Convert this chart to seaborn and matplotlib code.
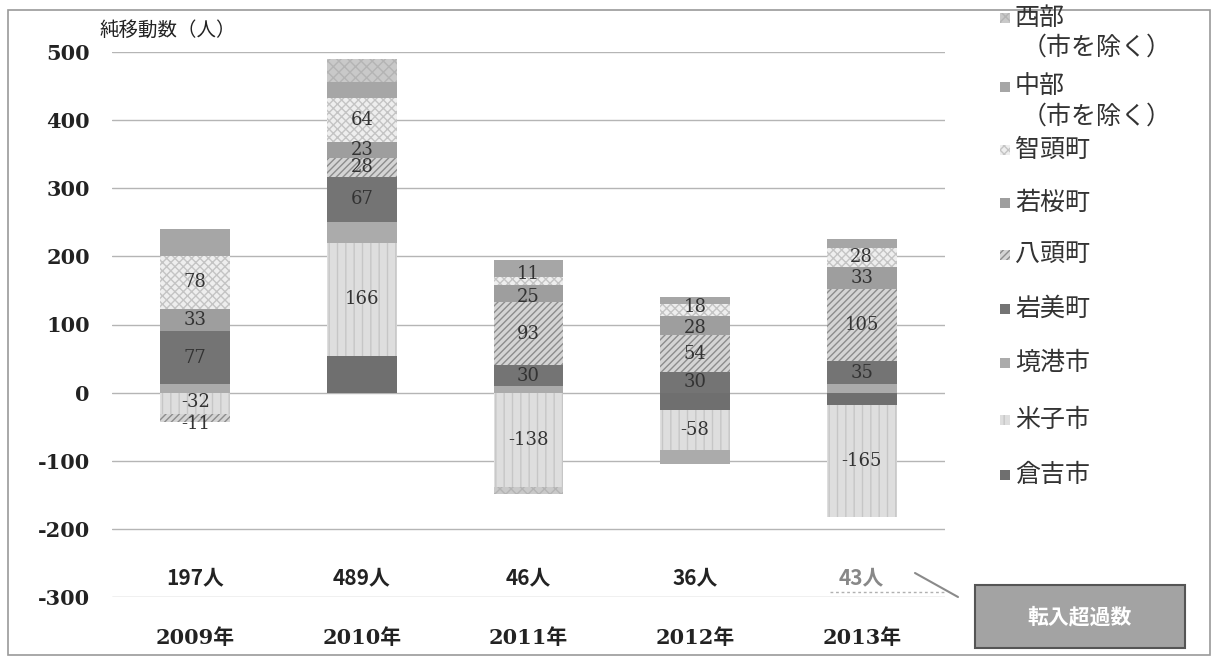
import matplotlib
matplotlib.use("Agg")
import matplotlib.pyplot as plt
from matplotlib.patches import Rectangle
import numpy as np
import pandas as pd
import seaborn as sns

# data (persons, net migration) -- stacking order bottom -> top as in Excel
years = ["2009年", "2010年", "2011年", "2012年", "2013年"]
totals = [197, 489, 46, 36, 43]
series = ["倉吉市", "米子市", "境港市", "岩美町", "八頭町", "若桜町", "智頭町", "中部", "西部"]
kurayoshi = [0, 54, 0, -26, -18]
yonago = [-32, 166, -138, -58, -165]
sakaiminato = [13, 30, 10, -21, 12]
iwami = [77, 67, 30, 30, 35]
yazu = [-11, 28, 93, 54, 105]
wakasa = [33, 23, 25, 28, 33]
chizu = [78, 64, 11, 18, 28]
chubu = [39, 24, 26, 11, 13]
seibu = [0, 33, -11, 0, 0]
values = [kurayoshi, yonago, sakaiminato, iwami, yazu, wakasa, chizu, chubu, seibu]
labeled = ["米子市", "岩美町", "八頭町", "若桜町", "智頭町"]
legend_labels = ["倉吉市", "米子市", "境港市", "岩美町", "八頭町", "若桜町", "智頭町",
                 "中部\n（市を除く）", "西部\n（市を除く）"]

# fill, hatch, hatch colour
styles = {
    "倉吉市": ("#6f6f6f", None, "#6f6f6f"),
    "米子市": ("#dedede", "||", "#c6c6c6"),
    "境港市": ("#ababab", None, "#ababab"),
    "岩美町": ("#747474", None, "#747474"),
    "八頭町": ("#d4d4d4", "/////", "#8c8c8c"),
    "若桜町": ("#9e9e9e", None, "#9e9e9e"),
    "智頭町": ("#eeeeee", "xxxx", "#c4c4c4"),
    "中部": ("#a6a6a6", None, "#a6a6a6"),
    "西部": ("#c9c9c9", "xxx", "#b4b4b4"),
}

# small nudges (data units) for crowded labels: (year index, series) -> dy
nudge = {(0, "米子市"): 2, (0, "八頭町"): -8, (2, "智頭町"): 10, (2, "若桜町"): -5,
         (3, "智頭町"): 4, (3, "若桜町"): -3}

sns.set_theme(style="white")
plt.rcParams["font.family"] = ["DejaVu Serif", "Noto Sans CJK JP"]
plt.rcParams["hatch.linewidth"] = 1.0

W, H = 1218, 657
fig = plt.figure(figsize=(W / 100, H / 100), dpi=100)
ax = fig.add_axes([112 / W, 1 - 597 / H, (945 - 112) / W, (597 - 52) / H])

pos_base = np.zeros(len(years))
neg_base = np.zeros(len(years))
for name, vals in zip(series, values):
    vals = np.array(vals, dtype=float)
    bottom = np.where(vals >= 0, pos_base, neg_base)
    df = pd.DataFrame({"year": years, "value": vals})
    fc, hatch, hc = styles[name]
    sns.barplot(data=df, x="year", y="value", order=years, bottom=bottom,
                color=fc, saturation=1, width=0.42, errorbar=None,
                hatch=hatch, edgecolor=hc, linewidth=0, ax=ax)
    if name in labeled:
        for i, v in enumerate(vals):
            if v != 0:
                ax.text(i, bottom[i] + v / 2 + nudge.get((i, name), 0), f"{int(v)}",
                        ha="center", va="center", fontsize=13, color="#333333",
                        family="DejaVu Serif")
    pos_base = pos_base + np.clip(vals, 0, None)
    neg_base = neg_base + np.clip(vals, None, 0)

# total labels
for i, t in enumerate(totals):
    ax.text(i, -272, f"{t}人", ha="center", va="center", fontsize=15, fontweight="bold",
            color="#888888" if i == len(totals) - 1 else "#222222",
            family=["Noto Sans CJK JP"])

ax.set_ylim(-300, 500)
ax.set_xlim(-0.5, len(years) - 0.5)
ax.set_yticks(np.arange(-300, 501, 100))
ax.set_yticklabels([str(v) for v in range(-300, 501, 100)], fontsize=15,
                   fontweight="bold", color="#222222")
ax.set_xticks(range(len(years)))
ax.set_xticklabels(years, fontsize=15, fontweight="bold", color="#222222")
ax.tick_params(axis="y", length=0, pad=16)
ax.tick_params(axis="x", length=0, pad=22)
ax.set_xlabel("")
ax.set_ylabel("")
ax.yaxis.grid(True, color="#b5b5b5", linewidth=1)
ax.set_axisbelow(True)
for s in ax.spines.values():
    s.set_visible(False)

fig.text(100 / W, 1 - 30 / H, "純移動数（人）", fontsize=14, va="center", ha="left",
         color="#222222", family=["Noto Sans CJK JP"])

# legend, drawn top -> bottom as in the original
leg_y = [475, 420, 363, 309, 255, 203, 150, 87, 18]
for name, lab, y in zip(series, legend_labels, leg_y):
    fc, hatch, hc = styles[name]
    fig.add_artist(Rectangle((1000 / W, 1 - (y + 5) / H), 10 / W, 10 / H,
                             transform=fig.transFigure, facecolor=fc, hatch=hatch,
                             edgecolor=hc, linewidth=0))
    first, *rest = lab.split("\n")
    fig.text(1015 / W, 1 - y / H, first, fontsize=18, va="center", ha="left",
             color="#333333", family=["Noto Sans CJK JP"])
    if rest:
        fig.text(1022 / W, 1 - (y + 30) / H, rest[0], fontsize=18, va="center", ha="left",
                 color="#333333", family=["Noto Sans CJK JP"])

# callout box for the last total
fig.add_artist(plt.Line2D([830 / W, 945 / W], [1 - 592 / H, 1 - 592 / H],
                          transform=fig.transFigure, color="#b0b0b0", linewidth=1,
                          linestyle=(0, (2, 2))))
fig.add_artist(plt.Line2D([915 / W, 958 / W], [1 - 573 / H, 1 - 597 / H],
                          transform=fig.transFigure, color="#8a8a8a", linewidth=1.5))
fig.add_artist(Rectangle((975 / W, 1 - 648 / H), 210 / W, 63 / H, transform=fig.transFigure,
                         facecolor="#a3a3a3", edgecolor="#555555", linewidth=1.5))
fig.text(1080 / W, 1 - 617 / H, "転入超過数", fontsize=15, ha="center", va="center",
         color="white", fontweight="bold", family=["Noto Sans CJK JP"])

# outer frame
fig.add_artist(Rectangle((8 / W, 2 / H), 1202 / W, 645 / H, transform=fig.transFigure,
                         fill=False, edgecolor="#9a9a9a", linewidth=1.2))

fig.savefig("out.png", dpi=100)
